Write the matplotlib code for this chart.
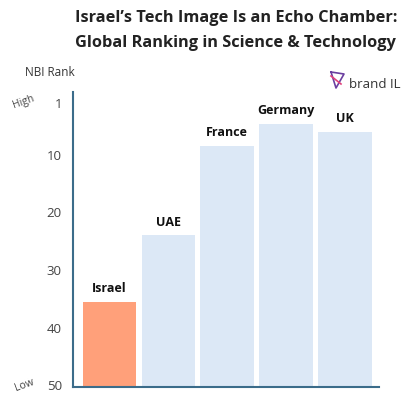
import matplotlib
matplotlib.use("Agg")
import matplotlib.pyplot as plt
from matplotlib.lines import Line2D

# data
countries = ["Israel", "UAE", "France", "Germany", "UK"]
nbi_rank = [35.5, 24, 8.4, 4.7, 6.1]
rank_ticks = [1, 10, 20, 30, 40, 50]

plt.rcParams['font.family'] = ['Open Sans', 'DejaVu Sans']

W, H = 410, 417
fig = plt.figure(figsize=(W / 100, H / 100), dpi=100)
fig.patch.set_facecolor("white")

def fx(px):
    return px / W

def fy(py):
    return 1 - py / H

ax = fig.add_axes([fx(73), fy(387), fx(379) - fx(73), fy(92) - fy(387)])

y_low, y_high = 50.3, -0.9
colors = ["#FFA07A"] + ["#DCE8F6"] * 4
xs = list(range(len(countries)))
ax.bar(xs, [y_low - r for r in nbi_rank], bottom=nbi_rank, width=0.91,
       color=colors, zorder=2)
for x, r, name in zip(xs, nbi_rank, countries):
    ax.text(x, r - 1.2, name, ha="center", va="bottom", fontsize=9,
            fontweight="bold", color="#111111")

ax.set_ylim(y_low, y_high)
ax.set_xlim(-0.62, 4.58)
ax.set_yticks(rank_ticks)
ax.set_yticklabels([str(t) for t in rank_ticks])
ax.set_xticks([])
ax.tick_params(axis="y", length=0, pad=8, labelsize=9.5, labelcolor="#444444")
for s in ["top", "right"]:
    ax.spines[s].set_visible(False)
for s in ["left", "bottom"]:
    ax.spines[s].set_color("#3b6c8a")
    ax.spines[s].set_linewidth(1.5)

# axis annotations
fig.text(fx(25), fy(72), "NBI Rank", ha="left", va="center", fontsize=8.5,
         color="#333333")
fig.text(fx(24), fy(102), "High", ha="center", va="center", fontsize=7.5,
         color="#444444", rotation=20)
fig.text(fx(24), fy(385), "Low", ha="center", va="center", fontsize=7.5,
         color="#444444", rotation=20)

# title
fig.text(fx(75), fy(18), "Israel\u2019s Tech Image Is an Echo Chamber:",
         ha="left", va="center", fontsize=11.8, fontweight="bold",
         color="#222222")
fig.text(fx(75), fy(43), "Global Ranking in Science & Technology",
         ha="left", va="center", fontsize=11.8, fontweight="bold",
         color="#222222")

# logo
lx = [fx(331), fx(344), fx(336), fx(331)]
ly = [fy(72), fy(74), fy(88), fy(72)]
fig.add_artist(Line2D(lx, ly, color="#6b3fa0", lw=1.2))
fig.add_artist(Line2D([fx(331), fx(341)], [fy(76), fy(84)], color="#e0407a", lw=1.2))
fig.text(fx(349), fy(84), "brand IL", ha="left", va="center", fontsize=9.5,
         color="#333333")

fig.savefig("out.png", dpi=100)
